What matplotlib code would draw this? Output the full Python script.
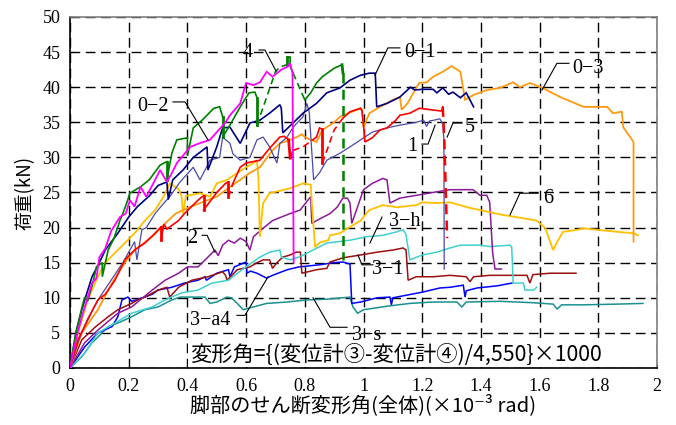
import matplotlib
matplotlib.use("Agg")
import matplotlib.pyplot as plt
import numpy as np

# ---------------- data ----------------
x_ticks = [0, 0.2, 0.4, 0.6, 0.8, 1.0, 1.2, 1.4, 1.6, 1.8, 2.0]
x_tick_labels = ["0", "0.2", "0.4", "0.6", "0.8", "1", "1.2", "1.4", "1.6", "1.8", "2"]
y_ticks = [0, 5, 10, 15, 20, 25, 30, 35, 40, 45, 50]

# magenta
mg_x = [0, 0.02, 0.04, 0.06, 0.075, 0.09, 0.10, 0.12, 0.14, 0.17, 0.19, 0.204, 0.22, 0.24, 0.26, 0.28, 0.307, 0.33, 0.35, 0.364,
        0.39, 0.41, 0.44, 0.477, 0.50, 0.53, 0.545, 0.58, 0.60, 0.625, 0.647, 0.67, 0.69, 0.72, 0.74, 0.75, 0.758, 0.762]
mg_y = [0, 4, 7.3, 10, 12.1, 12.8, 15.8, 17, 19.5, 21.5, 22, 23.9, 23, 25.8, 24.4, 26, 28.2, 26.5, 28, 29.2,
        30.5, 31.5, 32, 32.5, 33.6, 35, 36, 37.7, 40.6, 40.3, 40.7, 42.2, 41.5, 42.5, 42.9, 43.4, 42, 15]

# green
g_x = [0, 0.02, 0.04, 0.05, 0.06, 0.08, 0.09, 0.11, 0.11, 0.13, 0.15, 0.163, 0.17, 0.18, 0.194, 0.204, 0.24, 0.27, 0.307, 0.33,
       0.33, 0.347, 0.364, 0.40, 0.40, 0.42, 0.45, 0.49, 0.51, 0.52, 0.52, 0.545, 0.58, 0.61, 0.63, 0.637, 0.637, 0.70, 0.715, 0.74,
       0.74, 0.75, 0.75, 0.76, 0.80, 0.82, 0.84, 0.86, 0.90, 0.927, 0.93, 0.93]
g_y = [0, 5, 8.5, 10.1, 9.5, 12.5, 14.4, 15, 13, 16.8, 18.5, 20.1, 21, 22, 23.6, 24.9, 25.8, 26.8, 28.9, 29.4,
       26.8, 30.6, 32.5, 32.8, 30.2, 34.2, 35.3, 37, 37.2, 35.8, 32.9, 34.6, 37.2, 39.2, 39.3, 38.5, 34.6, 42.2, 42.9, 43.2,
       44.3, 44.3, 43, 42, 38.2, 39.2, 40.6, 41.5, 42.7, 43.2, 42, 15.4]

# navy
n_x = [0, 0.02, 0.04, 0.06, 0.075, 0.10, 0.12, 0.163, 0.2, 0.23, 0.27, 0.30, 0.33, 0.335, 0.35, 0.385, 0.42, 0.467, 0.47, 0.50,
       0.52, 0.545, 0.58, 0.613, 0.647, 0.68, 0.715, 0.72, 0.725, 0.76, 0.794, 0.84, 0.875, 0.92, 0.954, 0.99, 1.02, 1.04, 1.045, 1.08,
       1.124, 1.16, 1.175, 1.20, 1.237, 1.25, 1.27, 1.29, 1.305, 1.33, 1.35, 1.375]
n_y = [0, 5, 8.3, 11, 13, 15, 16.8, 19.2, 21.5, 23, 24.5, 26, 26.5, 24, 26.8, 28.2, 30, 31.5, 28.2, 31.5,
       34.2, 34.3, 32, 34.9, 35.3, 36.3, 37.5, 37, 33.5, 34.9, 36.3, 37.7, 39.2, 39.9, 41, 41.7, 42, 42, 37.2, 37.7,
       38.6, 40, 39.6, 39.7, 39.7, 39.2, 39.9, 39.0, 39.3, 38.5, 39.2, 37.2]

# slate blue ("1")
s_x = [0, 0.03, 0.06, 0.10, 0.14, 0.18, 0.2, 0.22, 0.228, 0.245, 0.26, 0.29, 0.32, 0.34, 0.375, 0.42, 0.443, 0.477, 0.51, 0.52,
       0.545, 0.555, 0.58, 0.613, 0.637, 0.658, 0.68, 0.705, 0.715, 0.74, 0.76, 0.794, 0.807, 0.815, 0.83, 0.85, 0.875, 0.92, 0.954, 0.99,
       1.03, 1.08, 1.124, 1.18, 1.205, 1.215, 1.225, 1.24, 1.26, 1.27, 1.274, 1.275]
s_y = [0, 4, 7, 10, 12.5, 15, 16.5, 18, 15.4, 19.7, 20, 22, 23.5, 24.4, 26.5, 28.6, 26.8, 29.6, 30, 32.9,
       32, 30.5, 29.6, 30, 32.5, 32.9, 31.5, 29.2, 32, 32.9, 34.3, 35.8, 37.7, 36.5, 26.8, 27.8, 29.6, 30.6, 31.5, 32.5,
       33.6, 34.2, 34.6, 35, 35.3, 34.4, 35.2, 35.3, 35.5, 34.8, 32.5, 14.1]

# red ("5")
r_x = [0, 0.027, 0.06, 0.08, 0.095, 0.12, 0.153, 0.187, 0.22, 0.255, 0.29, 0.31, 0.31, 0.32, 0.33, 0.37, 0.39, 0.436, 0.45, 0.455,
       0.455, 0.50, 0.53, 0.54, 0.54, 0.555, 0.58, 0.60, 0.647, 0.68, 0.715, 0.73, 0.745, 0.75, 0.76, 0.794, 0.84, 0.85, 0.86, 0.86,
       0.90, 0.93, 0.954, 0.99, 0.995, 1.0, 1.005, 1.03, 1.056, 1.08, 1.11, 1.124, 1.158, 1.19, 1.227, 1.267, 1.27, 1.275, 1.285]
r_y = [0, 4, 6.8, 8.5, 9.7, 10.5, 12.5, 15.4, 16.8, 17.8, 19.2, 20.1, 18.2, 20.5, 19.8, 21, 22, 23.9, 24.4, 24.5,
       22.5, 25, 26.3, 26.5, 24.3, 26.3, 28.6, 29.2, 29.6, 31.3, 32.9, 33, 32.5, 29.9, 31, 31.5, 32.9, 34.2, 34.0, 29.2,
       33.9, 35.6, 36.5, 37, 36.6, 34.6, 32.2, 32.8, 33.9, 34.2, 35.3, 36, 36.3, 37, 36.8, 36.6, 37.2, 32.9, 18.5]

# orange ("0-3")
o_x = [0, 0.04, 0.095, 0.143, 0.187, 0.22, 0.28, 0.324, 0.36, 0.385, 0.443, 0.50, 0.545, 0.58, 0.613, 0.647, 0.69, 0.715, 0.75, 0.773,
       0.79, 0.80, 0.82, 0.84, 0.86, 0.90, 0.92, 0.96, 0.99, 0.995, 1.0, 1.02, 1.056, 1.08, 1.10, 1.124, 1.13, 1.15, 1.17, 1.19,
       1.216, 1.237, 1.27, 1.30, 1.33, 1.346, 1.375, 1.42, 1.465, 1.51, 1.533, 1.567, 1.61, 1.67, 1.71, 1.75, 1.83, 1.85, 1.88, 1.885,
       1.92, 1.92]
o_y = [0, 5, 8.3, 12.1, 15, 16.8, 18.7, 20.6, 22, 22.5, 23.5, 24.4, 25.8, 26.8, 27.8, 28.6, 31, 32, 32.5, 32.9,
       33.3, 32.9, 32.5, 32.2, 33.9, 35, 35.8, 36.5, 37, 36.8, 34.3, 36.3, 37.2, 37.7, 38.2, 38.6, 36.8, 37.7, 39.2, 40.6,
       40.7, 41.5, 42.2, 43, 42.2, 38.2, 38.9, 39.6, 39.9, 40.7, 40, 40.6, 39.9, 38.6, 37.9, 37.2, 37.2, 36.3, 36.5, 34.3,
       32.2, 18]

# gold ("6")
gd_x = [0, 0.027, 0.06, 0.095, 0.12, 0.153, 0.187, 0.22, 0.255, 0.29, 0.32, 0.34, 0.37, 0.38, 0.385, 0.395, 0.443, 0.477, 0.50, 0.535,
        0.57, 0.60, 0.625, 0.637, 0.642, 0.647, 0.658, 0.68, 0.75, 0.794, 0.82, 0.824, 0.835, 0.852, 0.88, 0.886, 0.92, 0.954, 0.99, 1.02,
        1.066, 1.114, 1.18, 1.20, 1.25, 1.295, 1.363, 1.43, 1.475, 1.52, 1.59, 1.62, 1.646, 1.66, 1.68, 1.73, 1.75, 1.795, 1.864, 1.92,
        1.935]
gd_y = [0, 5, 9.7, 13, 15, 16.4, 17.8, 19.2, 21, 22.5, 24.5, 26.3, 25.5, 24.5, 22, 24.5, 24.9, 24.4, 26.3, 26.8,
        27.8, 28.6, 29.2, 29.6, 27, 18.7, 23.5, 24.9, 25.6, 26.3, 26.1, 23.5, 17.2, 17.9, 18.2, 18.9, 19.2, 20.1, 21, 22.5,
        23.2, 22.9, 23.2, 23.6, 23.5, 23.6, 22.8, 22.2, 21.8, 21.5, 21, 19.9, 16.8, 18, 19.4, 19.7, 19.9, 19.7, 19.4, 19.2,
        18.9]

# purple ("2")
p_x = [0, 0.05, 0.095, 0.163, 0.21, 0.28, 0.324, 0.37, 0.40, 0.436, 0.47, 0.494, 0.505, 0.52, 0.54, 0.56, 0.58, 0.60, 0.613, 0.625,
       0.658, 0.69, 0.75, 0.784, 0.82, 0.824, 0.84, 0.886, 0.91, 0.93, 0.945, 0.954, 0.96, 0.976, 1.0, 1.03, 1.066, 1.08, 1.09, 1.124,
       1.18, 1.25, 1.295, 1.373, 1.397, 1.42, 1.43, 1.44, 1.448, 1.47]
p_y = [0, 3.6, 5.4, 7.8, 8.7, 11.1, 12.5, 13.5, 14.4, 14.4, 15.8, 16.8, 16.0, 17.5, 18.2, 17.8, 18.5, 18.0, 16.8, 18.7,
       19.9, 21, 22, 22.5, 24.4, 20.6, 21, 22, 22.9, 24.2, 24.2, 23.5, 20.6, 22.5, 25.4, 26.3, 27, 26.8, 23.5, 24.2,
       24.6, 25.1, 25.4, 25.4, 24.6, 24.6, 23.6, 16.4, 14.1, 14.1]

# turquoise ("3-h")
c_x = [0, 0.05, 0.095, 0.153, 0.21, 0.28, 0.324, 0.38, 0.436, 0.484, 0.54, 0.57, 0.62, 0.647, 0.68, 0.715, 0.72, 0.75, 0.78, 0.828,
       0.875, 0.954, 1.01, 1.066, 1.114, 1.135, 1.145, 1.158, 1.20, 1.25, 1.295, 1.33, 1.35, 1.397, 1.43, 1.50, 1.505, 1.51, 1.545, 1.55,
       1.58, 1.59]
c_y = [0, 2.1, 5, 6.4, 7.8, 8.7, 9.7, 10.7, 11.1, 12.1, 12.5, 13.5, 15, 15.8, 16.5, 16.8, 15.8, 15.4, 15.8, 16.8,
       17.8, 18.2, 18.7, 18.9, 19.4, 19.7, 19.0, 15.4, 16.1, 16.5, 17.1, 17.5, 17.5, 17.5, 17.3, 17.5, 17.2, 12.1, 12.1, 11.1,
       11.1, 11.5]

# maroon ("3-1")
m_x = [0, 0.04, 0.085, 0.13, 0.163, 0.21, 0.23, 0.255, 0.30, 0.33, 0.34, 0.37, 0.415, 0.47, 0.52, 0.53, 0.535, 0.57, 0.59, 0.613,
       0.637, 0.658, 0.68, 0.69, 0.705, 0.725, 0.75, 0.77, 0.785, 0.79, 0.84, 0.875, 0.886, 0.93, 0.99, 1.046, 1.10, 1.135, 1.145, 1.152,
       1.18, 1.237, 1.295, 1.35, 1.363, 1.375, 1.43, 1.50, 1.557, 1.567, 1.577, 1.635, 1.68, 1.724]
m_y = [0, 4, 5.8, 7.3, 8.3, 9.2, 9.7, 10.1, 11.1, 11.5, 10.1, 11.5, 12.5, 13, 13.7, 13.2, 12.5, 14, 14.2, 14.4,
       15, 15.4, 15.4, 14.2, 15.0, 15.8, 16.1, 16.5, 16.5, 13.5, 14, 14.2, 15.1, 15.7, 16.1, 16.5, 16.8, 17.1, 16.8, 12.5,
       13, 13, 13.2, 13, 12.3, 13, 13.2, 13.2, 13.2, 12.1, 13.3, 13.5, 13.5, 13.5]

# blue ("3-a4")
b_x = [0, 0.05, 0.095, 0.143, 0.163, 0.177, 0.197, 0.21, 0.255, 0.28, 0.30, 0.347, 0.39, 0.436, 0.46, 0.465, 0.50, 0.54, 0.545, 0.56,
       0.60, 0.603, 0.615, 0.637, 0.67, 0.69, 0.74, 0.78, 0.85, 0.897, 0.93, 0.954, 0.96, 0.99, 1.046, 1.09, 1.095, 1.10, 1.15, 1.20,
       1.26, 1.295, 1.34, 1.346, 1.35, 1.387, 1.455, 1.506]
b_y = [0, 3, 5, 5.9, 7.3, 9.7, 10.1, 9.5, 10.1, 10.5, 11.1, 11.5, 12.1, 12.5, 13, 12.5, 13.5, 14, 13.0, 14.4,
       15.1, 13.5, 13.8, 13.5, 12.8, 13.2, 14, 14.4, 14.7, 15, 15.1, 14.8, 9.2, 9.4, 10, 10.1, 9.0, 10.0, 10.4, 10.8,
       11.4, 11.5, 11.8, 10.1, 11.0, 11.4, 11.7, 12.1]

# teal ("3-s")
t_x = [0, 0.04, 0.075, 0.095, 0.13, 0.163, 0.21, 0.255, 0.30, 0.347, 0.375, 0.436, 0.46, 0.477, 0.50, 0.535, 0.55, 0.57, 0.59, 0.625,
       0.67, 0.74, 0.807, 0.875, 0.954, 0.964, 0.98, 1.0, 1.08, 1.158, 1.237, 1.318, 1.335, 1.35, 1.465, 1.578, 1.646, 1.66, 1.675, 1.75,
       1.864, 1.952]
t_y = [0, 1.6, 3.6, 4.4, 5.9, 6.4, 7.3, 8.3, 8.7, 9.7, 10.1, 10.1, 10.1, 9.2, 9.4, 10.1, 10.0, 9.2, 8.3, 8.7,
       9.2, 9.4, 9.7, 9.8, 10.1, 8.7, 7.8, 8.3, 8.8, 9.2, 9.4, 9.4, 8.7, 9.4, 9.5, 9.3, 9.1, 8.4, 9.0, 9.0,
       9.1, 9.2]

# labels: (text, text position, leader polyline)
label_texts = ["4", "0−2", "0−1", "0−3", "5", "1", "6", "3−h", "3−1", "2", "3−a4", "3−s"]
label_pos = [(0.606, 45.0), (0.283, 37.2), (1.193, 45.0), (1.765, 42.7), (1.363, 34.2), (1.165, 31.5),
             (1.629, 24.2), (1.141, 20.8), (1.083, 14.0), (0.416, 18.4), (0.477, 6.8), (1.012, 4.7)]
leader_x = [[0.644, 0.664, 0.702], [0.351, 0.392, 0.470], [1.039, 1.083, 1.124], [1.608, 1.659, 1.700],
            [1.285, 1.305, 1.336], [1.199, 1.220, 1.244], [1.499, 1.533, 1.595], [1.022, 1.063],
            [0.981, 0.995, 1.032], [0.450, 0.467, 0.494], [0.569, 0.596, 0.675], [0.828, 0.886, 0.944]]
leader_y = [[45.3, 45.3, 42.3], [37.9, 37.9, 32.5], [41.7, 45.6, 45.6], [39.6, 43.4, 43.4],
            [32.9, 34.9, 34.9], [31.9, 31.9, 34.6], [21.8, 24.9, 24.9], [17.8, 21.5],
            [16.1, 14.7, 14.7], [18.9, 18.9, 16.5], [7.5, 7.5, 13.0], [10.0, 5.8, 5.8]]

formula_text = "変形角={(変位計③-変位計④)/4,550}×1000"
x_label = "脚部のせん断変形角(全体)(×10⁻³ rad)"
y_label = "荷重(kN)"

# ---------------- drawing ----------------
JP = ["Noto Sans CJK JP", "DejaVu Sans"]
SERIF = ["Liberation Serif", "DejaVu Serif"]

fig = plt.figure(figsize=(6.76, 4.25), dpi=100)
ax = fig.add_axes([70 / 676, 57 / 425, 587 / 676, 351 / 425])


def draw(xs, ys, color, lw=1.1, dashed=(), thick=()):
    n = len(xs) - 1
    styles = [((i in dashed), (i in thick)) for i in range(n)]
    i = 0
    while i < n:
        j = i
        while j + 1 < n and styles[j + 1] == styles[i]:
            j += 1
        d, t = styles[i]
        w = lw
        if t:
            w = 1.8 if d else 2.0
        ax.plot(xs[i:j + 2], ys[i:j + 2], color=color,
                lw=w, ls=((0, (4, 2.5)) if d else "-"),
                solid_joinstyle="miter", zorder=3)
        i = j + 1


draw(t_x, t_y, "#1a9090")
draw(b_x, b_y, "#0000ff")
draw(m_x, m_y, "#9b1010")
draw(c_x, c_y, "#40d0d0")
draw(p_x, p_y, "#8b1a99")
draw(gd_x, gd_y, "#ffc000", lw=1.3)
draw(o_x, o_y, "#ff9a10", lw=1.3)
draw(s_x, s_y, "#4a4aa8", lw=0.9)
draw(r_x, r_y, "#ff0000", lw=1.2, dashed={24, 34, 35, 39, 40, 56, 57}, thick={11, 19, 23, 32, 38, 56, 57})
draw(n_x, n_y, "#000080", lw=1.2)
draw(g_x, g_y, "#008000", lw=1.2, dashed={36, 37, 38, 43, 50}, thick={19, 29, 35, 39, 49, 50})
draw(mg_x, mg_y, "#ff00ff", lw=1.3)

for txt, (tx, ty), lx, ly in zip(label_texts, label_pos, leader_x, leader_y):
    ax.plot(lx, ly, color="black", lw=0.8, zorder=4)
    ax.text(tx, ty, txt, family=SERIF, fontsize=14.5, ha="center", va="center", zorder=4)

ax.text(0.408, 1.9, formula_text, family=JP, fontsize=15.3, ha="left", va="center", zorder=6,
        bbox=dict(facecolor="white", edgecolor="none", pad=1.0))

ax.set_xlim(0, 2)
ax.set_ylim(0, 50)
ax.set_xticks(x_ticks)
ax.set_xticklabels(x_tick_labels)
ax.set_yticks(y_ticks)
ax.grid(True, color="black", ls=(0, (7, 4)), lw=1.0, zorder=1)
ax.set_axisbelow(True)
ax.tick_params(direction="in", length=3, width=0.8, labelsize=13, pad=7)
for lab in ax.get_xticklabels() + ax.get_yticklabels():
    lab.set_family(SERIF)
for side in ["left", "bottom"]:
    ax.spines[side].set_color("black")
    ax.spines[side].set_linewidth(1.2)
for side in ["top", "right"]:
    ax.spines[side].set_color("#808080")
    ax.spines[side].set_linewidth(1.2)

ax.set_xlabel(x_label, family=JP, fontsize=14.5, labelpad=0)
ax.set_ylabel(y_label, family=JP, fontsize=13.5)
ax.yaxis.set_label_coords(-0.058, 0.5)

fig.savefig("out.png", dpi=100)
